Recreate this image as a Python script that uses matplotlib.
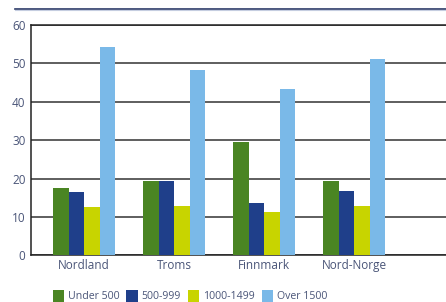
import matplotlib
matplotlib.use("Agg")
import matplotlib.pyplot as plt
from matplotlib.patches import Patch
from matplotlib.lines import Line2D
import numpy as np

categories = ["Nordland", "Troms", "Finnmark", "Nord-Norge"]
series_names = ["Under 500", "500-999", "1000-1499", "Over 1500"]
under_500 = [17.5, 19.4, 29.5, 19.4]
s500_999 = [16.5, 19.4, 13.6, 16.7]
s1000_1499 = [12.6, 12.8, 11.3, 12.8]
over_1500 = [54.2, 48.3, 43.3, 51.1]
yticks = [0, 10, 20, 30, 40, 50, 60]

colors = ["#4a8523", "#1f3f8a", "#c8d400", "#7ab9e8"]
text_color = "#4a5578"

plt.rcParams['font.family'] = ['Open Sans', 'DejaVu Sans']

W, H = 446, 302
fig = plt.figure(figsize=(W / 100, H / 100), dpi=100)
ax = fig.add_axes([31 / W, 1 - 255.3 / H, (W - 31) / W, (255.3 - 25) / H])

x = np.arange(len(categories))
bw = 0.172
all_series = [under_500, s500_999, s1000_1499, over_1500]
for i, (vals, c) in enumerate(zip(all_series, colors)):
    ax.bar(x + (i - 1.5) * bw, vals, width=bw, color=c, zorder=3, linewidth=0)

ax.set_xlim(-0.589, 4.02)
ax.set_ylim(0, 60)
ax.set_yticks(yticks)
ax.set_yticklabels([str(v) for v in yticks])
ax.set_xticks(x)
ax.set_xticklabels(categories)
ax.tick_params(axis='both', length=0, colors=text_color, labelsize=8.5, pad=4)
ax.tick_params(axis='x', pad=3)
ax.yaxis.grid(True, color="#333333", linewidth=1.1, zorder=1)
ax.spines["right"].set_visible(False)
for s in ["left", "bottom", "top"]:
    ax.spines[s].set_color("#222222")
    ax.spines[s].set_linewidth(1.1)

# decorative top line
fig.add_artist(Line2D([15 / W, 1.0], [1 - 9 / H, 1 - 9 / H], color="#2b3a67", linewidth=1.2))
fig.add_artist(Line2D([15 / W, 1.0], [1 - 10.3 / H, 1 - 10.3 / H], color="#c5cde0", linewidth=0.8))

handles = [Patch(facecolor=c, edgecolor='none') for c in colors]
leg = fig.legend(handles, series_names, loc='center', bbox_to_anchor=(190 / W, 1 - 296 / H),
                 ncol=4, frameon=False, fontsize=7.6, handlelength=1.1, handleheight=1.4,
                 handletextpad=0.35, columnspacing=0.65, borderpad=0)
for t in leg.get_texts():
    t.set_color(text_color)

fig.savefig("out.png", dpi=100)
